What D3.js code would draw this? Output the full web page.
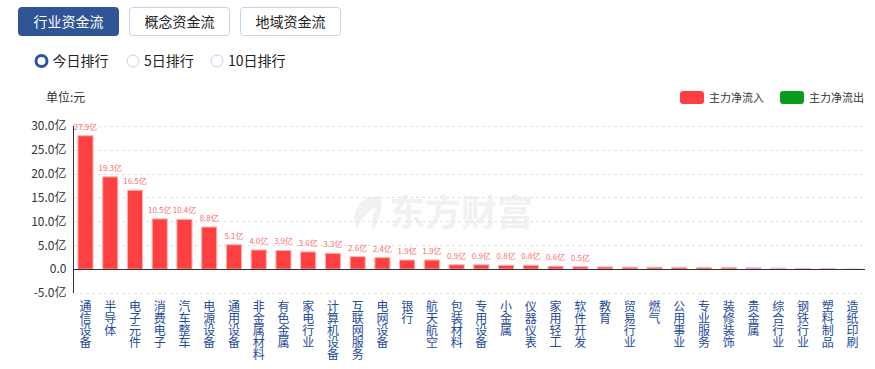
<!DOCTYPE html>
<html>
<head>
<meta charset="utf-8">
<script src="https://cdn.jsdelivr.net/npm/d3@7"></script>
<style>
    html, body { margin: 0; padding: 0; background: #fff; }
    svg { display: block; font-family: "Noto Sans CJK SC", "Noto Sans", sans-serif; }
</style>
</head>
<body>
<svg id="chart" width="875" height="369"></svg>
<script>
// Branchen (Kategorien)
const categories = ['通信设备', '半导体', '电子元件', '消费电子', '汽车整车', '电源设备', '通用设备',
    '非金属材料', '有色金属', '家电行业', '计算机设备', '互联网服务', '电网设备', '银行', '航天航空',
    '包装材料', '专用设备', '小金属', '仪器仪表', '家用轻工', '软件开发', '教育', '贸易行业', '燃气',
    '公用事业', '专业服务', '装修装饰', '贵金属', '综合行业', '钢铁行业', '塑料制品', '造纸印刷'];

// Hauptkapital Nettozufluss (亿)
const values = [27.9, 19.3, 16.5, 10.5, 10.4, 8.8, 5.1, 4.0, 3.9, 3.6, 3.3, 2.6, 2.4, 1.9, 1.9,
    0.9, 0.9, 0.8, 0.8, 0.6, 0.5, 0.45, 0.4, 0.38, 0.36, 0.34, 0.3, 0.25, 0.2, 0.15, 0.08, 0.01];

const yTicks = [-5, 0, 5, 10, 15, 20, 25, 30];
const tabs = ['行业资金流', '概念资金流', '地域资金流'];
const radios = ['今日排行', '5日排行', '10日排行'];
const legendItems = [{ name: '主力净流入', color: '#ff4040' }, { name: '主力净流出', color: '#0a9a1c' }];

const svg = d3.select('#chart');

// Tabs oben
const tabG = svg.append('g');
tabs.forEach((t, i) => {
    const x = 18 + i * 111;
    tabG.append('rect')
        .attr('x', x + 0.5).attr('y', 7.5)
        .attr('width', 100).attr('height', 28)
        .attr('rx', 3)
        .attr('fill', i === 0 ? '#2f5597' : '#fff')
        .attr('stroke', i === 0 ? '#2f5597' : '#c3d5ea');
    tabG.append('text')
        .attr('x', x + 50.5).attr('y', 26.5)
        .attr('text-anchor', 'middle')
        .style('font-size', '14px')
        .style('fill', i === 0 ? '#fff' : '#222')
        .text(t);
});

// Radio-Buttons
const radioX = [41.5, 133, 217];
radios.forEach((r, i) => {
    const cx = radioX[i];
    if (i === 0) {
        svg.append('circle').attr('cx', cx).attr('cy', 61).attr('r', 5.5)
            .attr('fill', '#fff').attr('stroke', '#2f5597').attr('stroke-width', 3);
    } else {
        svg.append('circle').attr('cx', cx).attr('cy', 61).attr('r', 6)
            .attr('fill', '#fff').attr('stroke', '#c3d5ea').attr('stroke-width', 1);
    }
    svg.append('text')
        .attr('x', cx + 11).attr('y', 66)
        .style('font-size', '14px')
        .style('fill', '#222')
        .text(r);
});

// Einheit
svg.append('text')
    .attr('x', 46).attr('y', 102)
    .style('font-size', '12px')
    .style('fill', '#333')
    .text('单位:元');

// Legende
legendItems.forEach((d, i) => {
    const x = 680 + i * 100;
    svg.append('rect')
        .attr('x', x).attr('y', 91)
        .attr('width', 24).attr('height', 13)
        .attr('rx', 3)
        .attr('fill', d.color);
    svg.append('text')
        .attr('x', x + 29).attr('y', 101.5)
        .style('font-size', '11px')
        .style('fill', '#333')
        .text(d.name);
});

// Skalen
const xScale = d3.scaleBand()
    .domain(categories)
    .range([73, 865])
    .paddingInner(0.39)
    .paddingOuter(0.2);

const yScale = d3.scaleLinear()
    .domain([-5, 30])
    .range([293, 125.7]);

// Wasserzeichen
svg.append('text')
    .attr('x', 461).attr('y', 226)
    .attr('text-anchor', 'middle')
    .style('font-size', '36px')
    .style('font-weight', '700')
    .style('fill', '#f1f1f1')
    .text('东方财富');
svg.append('path')
    .attr('d', 'M368,197 C356,205 351,216 357,229 C360,220 367,212 377,206 C373,214 371,222 373,230 C380,218 384,206 380,196 Z')
    .attr('fill', '#f1f1f1');

// Gitterlinien
svg.append('g')
    .selectAll('line')
    .data(yTicks.filter(d => d !== 0))
    .enter()
    .append('line')
    .attr('x1', 74).attr('x2', 865)
    .attr('y1', d => Math.round(yScale(d)) + 0.5)
    .attr('y2', d => Math.round(yScale(d)) + 0.5)
    .attr('stroke', '#e3e3e3')
    .attr('stroke-dasharray', '3,3');

// Y-Achse
const yAxis = svg.append('g')
    .attr('transform', 'translate(73.5,0)')
    .call(d3.axisLeft(yScale)
        .tickValues(yTicks)
        .tickSize(0)
        .tickPadding(7)
        .tickFormat(d => d === 0 ? '0.0' : d.toFixed(1) + '亿'));
yAxis.select('.domain').attr('stroke', '#333').attr('d', `M0,${yScale(30)}V${yScale(-5)}`);
yAxis.selectAll('text')
    .style('font-size', '12px')
    .style('fill', '#333')
    .style('font-family', '"Noto Sans CJK SC", sans-serif');

// Balken
svg.append('g')
    .selectAll('rect')
    .data(values)
    .enter()
    .append('rect')
    .attr('x', (d, i) => xScale(categories[i]))
    .attr('y', d => yScale(Math.max(d, 0)))
    .attr('width', xScale.bandwidth())
    .attr('height', d => Math.abs(yScale(d) - yScale(0)))
    .attr('fill', d => d >= 0 ? '#ff4040' : '#0a9a1c')
    .attr('stroke', d => d >= 0 ? '#ffb0b0' : '#8fd39a')
    .attr('stroke-width', 1);

// Nulllinie
svg.append('line')
    .attr('x1', 73).attr('x2', 865)
    .attr('y1', Math.round(yScale(0)) + 0.5)
    .attr('y2', Math.round(yScale(0)) + 0.5)
    .attr('stroke', '#333');

// Werte an Balken
svg.append('g')
    .selectAll('text')
    .data(values.map((v, i) => ({ v, c: categories[i] })).filter(d => d.v >= 0.5))
    .enter()
    .append('text')
    .attr('x', d => xScale(d.c) + xScale.bandwidth() / 2)
    .attr('y', d => yScale(d.v) - 6)
    .attr('text-anchor', 'middle')
    .style('font-size', '8px')
    .style('fill', '#ff6b6b')
    .text(d => d.v.toFixed(1) + '亿');

// Kategorie-Labels (vertikal)
svg.append('g')
    .selectAll('text')
    .data(categories)
    .enter()
    .append('text')
    .attr('x', d => xScale(d) + xScale.bandwidth() / 2)
    .attr('y', 300)
    .style('writing-mode', 'vertical-rl')
    .style('text-orientation', 'upright')
    .style('font-size', '12px')
    .style('fill', '#234a9c')
    .text(d => d);
</script>
</body>
</html>
